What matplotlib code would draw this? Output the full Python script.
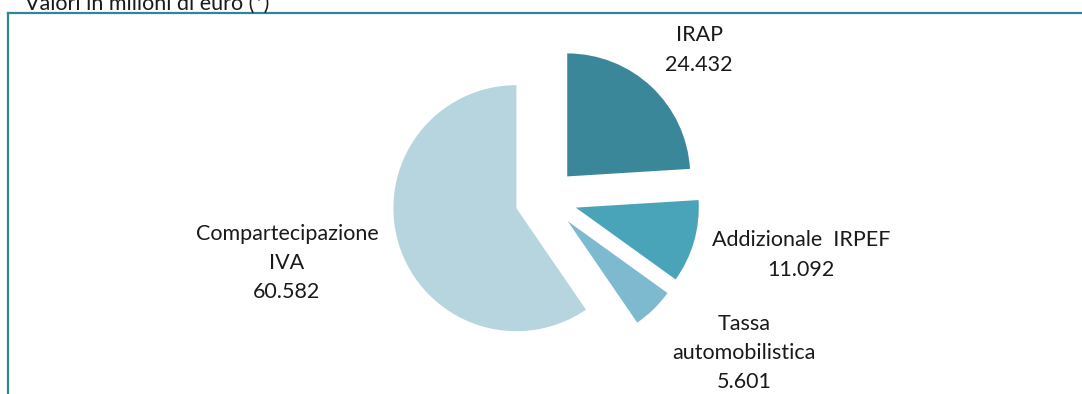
import matplotlib
matplotlib.use("Agg")
import matplotlib.pyplot as plt
from matplotlib.lines import Line2D

# Entrate regionali, valori in milioni di euro
categorie = ["IRAP", "Addizionale  IRPEF", "Tassa\nautomobilistica", "Compartecipazione\nIVA"]
valori = [24432, 11092, 5601, 60582]
etichette_valori = ["24.432", "11.092", "5.601", "60.582"]
colori = ["#3A8799", "#49A4BA", "#7DBACF", "#B7D5DF"]

W, H = 1082, 394
fig = plt.figure(figsize=(W / 100, H / 100), dpi=100)
ax = fig.add_axes([0, 0, 1, 1])

# pie drawn in pixel-like data units (explode is absolute here)
wedges, _ = ax.pie(
    valori,
    colors=colori,
    startangle=90,
    counterclock=False,
    explode=[31] * len(valori),
    center=(546, 195),
    radius=123,
    frame=True,
    wedgeprops=dict(linewidth=0),
)
ax.set_xlim(0, W)
ax.set_ylim(0, H)
ax.set_aspect("equal")
ax.axis("off")

font = dict(family=["Lato", "DejaVu Sans"], fontsize=15.5, color="#1a1a1a")

# label positions (center of each label block)
pos_etichette = [(699, 394 - 50), (801, 394 - 255), (744, 394 - 353), (287, 394 - 263)]
for cat, val, (x, y) in zip(categorie, etichette_valori, pos_etichette):
    ax.text(x, y, cat + "\n" + val, ha="center", va="center",
            multialignment="center", linespacing=1.58, **font)

# title, cut at the top edge
fig.text(25 / W, 1 - 9.5 / H, "Valori in milioni di euro (*)", ha="left",
         va="baseline", **font)

# frame lines
bordo = "#31849B"
fig.add_artist(Line2D([8 / W, 1], [1 - 13 / H, 1 - 13 / H], color=bordo, lw=1.6,
                      transform=fig.transFigure))
fig.add_artist(Line2D([8 / W, 8 / W], [0, 1 - 13 / H], color=bordo, lw=1.6,
                      transform=fig.transFigure))

fig.savefig("out.png", dpi=100, facecolor="white")
